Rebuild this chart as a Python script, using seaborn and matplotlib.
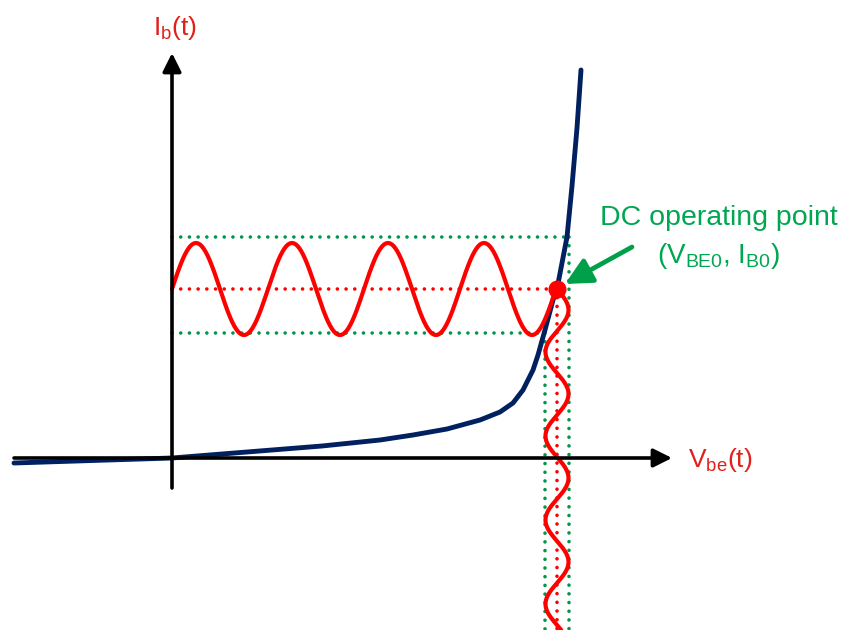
import numpy as np
import pandas as pd
import matplotlib
matplotlib.use("Agg")
import matplotlib.pyplot as plt
import seaborn as sns

# ---- data (pixel-based units, origin at the axes crossing) ----
vbe_curve = [-158, -80, 0, 50, 100, 150, 208, 241, 275, 308, 328, 341, 351, 356,
             361, 366, 373, 381, 385, 390, 395, 400, 405, 409]
ib_curve = [-5, -2.5, 0, 4, 8, 12, 18, 23, 29, 38, 46, 55, 68, 78,
            88, 103, 128, 158, 169, 195, 221, 272, 330, 388]

op_vbe = 385          # DC operating point
op_ib = 169
ib_amp = 46           # input swing on the Ib axis
ib_period = 96
vbe_amp = 11.5        # swing on the Vbe side
vbe_period = 84
n_cycles_h = 4.0
green_left = 373
green_right = 397
green_top = 221
green_bottom = 125

RED = "#FF0000"
LABEL_RED = "#E0201A"
NAVY = "#002060"
GREEN = "#00A651"
DOT_GREEN = "#00964B"

sns.set_theme(style="white")
plt.rcParams["font.family"] = ["Liberation Sans", "DejaVu Sans"]
plt.rcParams["mathtext.fontset"] = "custom"
plt.rcParams["mathtext.rm"] = "Liberation Sans"

fig = plt.figure(figsize=(8.48, 6.3), dpi=100)
ax = fig.add_axes([0, 0, 1, 1])
ax.set_xlim(-172, 676)
ax.set_ylim(-172, 458)
ax.axis("off")

# axes arrows
ax.annotate("", xy=(500, 0), xytext=(-158, 0),
            arrowprops=dict(arrowstyle="-|>", lw=2.6, color="black", mutation_scale=28,
                            shrinkA=0, shrinkB=0))
ax.annotate("", xy=(0, 405), xytext=(0, -30),
            arrowprops=dict(arrowstyle="-|>", lw=2.6, color="black", mutation_scale=28,
                            shrinkA=0, shrinkB=0))

# green dotted guide lines
dot = dict(color=DOT_GREEN, lw=2.6, linestyle=(0, (0.01, 2.4)), dash_capstyle="round")
ax.plot([0, green_right], [green_top, green_top], **dot)
ax.plot([0, green_left], [green_bottom, green_bottom], **dot)
ax.plot([green_right, green_right], [green_top, -172], **dot)
ax.plot([green_left, green_left], [green_bottom, -172], **dot)

# red dotted operating lines
rdot = dict(color=RED, lw=2.6, linestyle=(0, (0.01, 2.4)), dash_capstyle="round")
ax.plot([0, op_vbe], [op_ib, op_ib], **rdot)
ax.plot([op_vbe, op_vbe], [op_ib, -172], **rdot)

# diode curve
df_curve = pd.DataFrame({"vbe": vbe_curve, "ib": ib_curve})
sns.lineplot(data=df_curve, x="vbe", y="ib", ax=ax, color=NAVY, lw=3.5, sort=False,
             estimator=None)
ax.lines[-1].set_solid_joinstyle("round")

# horizontal sine (Ib swing)
t = np.linspace(0, n_cycles_h * ib_period, 600)
t = t[t <= op_vbe]
df_h = pd.DataFrame({"x": t, "y": op_ib + ib_amp * np.sin(2 * np.pi * t / ib_period)})
sns.lineplot(data=df_h, x="x", y="y", ax=ax, color=RED, lw=3.0, sort=False, estimator=None)

# vertical sine (Vbe swing)
s = np.linspace(0, op_ib + 172, 600)
df_v = pd.DataFrame({"x": op_vbe + vbe_amp * np.sin(2 * np.pi * s / vbe_period),
                     "y": op_ib - s})
sns.lineplot(data=df_v, x="x", y="y", ax=ax, color=RED, lw=3.0, sort=False, estimator=None)

# operating point
ax.plot([op_vbe], [op_ib], "o", color=RED, ms=12, zorder=10)

# labels
ax.text(3, 430, r"I$_\mathregular{b}$(t)", color=LABEL_RED, fontsize=19, ha="center", va="center")
ax.text(548, -2, r"V$_\mathregular{be}$(t)", color=LABEL_RED, fontsize=19, ha="center", va="center")
ax.text(547, 240, "DC operating point", color=GREEN, fontsize=20.5, ha="center", va="center")
ax.text(547, 202, r"(V$_\mathregular{BE0}$, I$_\mathregular{B0}$)", color=GREEN, fontsize=20,
        ha="center", va="center")

ax.annotate("", xy=(393, 174), xytext=(460, 211),
            arrowprops=dict(arrowstyle="-|>", lw=3.4, color="#00A04A", mutation_scale=40,
                            shrinkA=0, shrinkB=0))

fig.savefig("out.png", dpi=100)
